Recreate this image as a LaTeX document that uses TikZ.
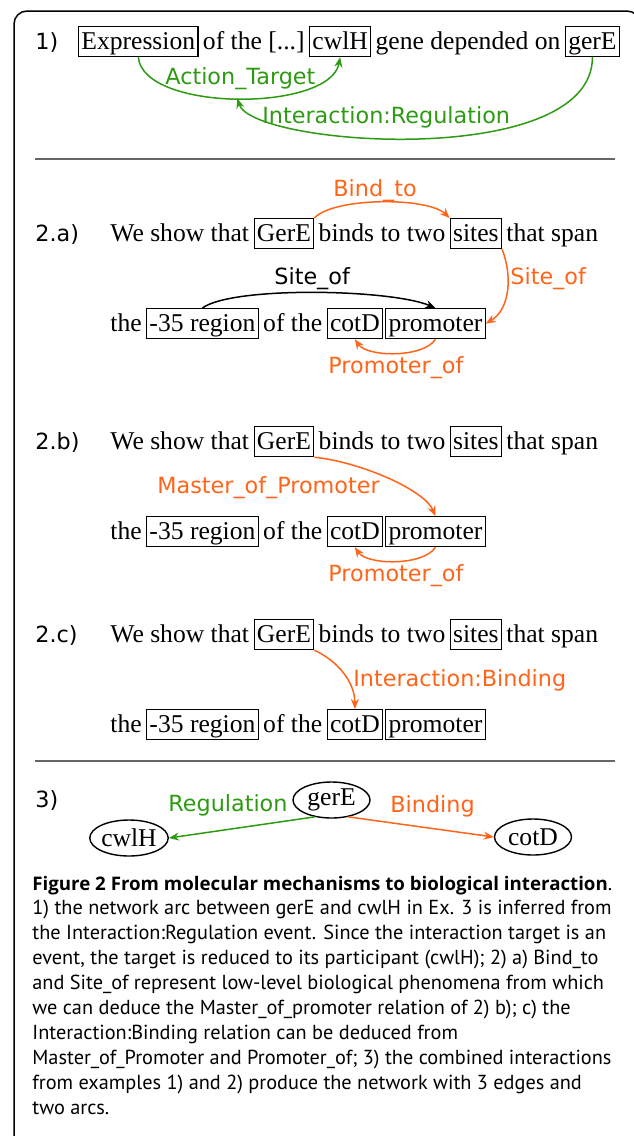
\documentclass[tikz,border=0pt]{standalone}
\usepackage{fontspec}
\setmainfont{Liberation Serif}
\newfontfamily\labelfont{DejaVu Sans}
\newfontfamily\capfont{PT Sans}
\newfontfamily\capbold{Open Sans}
\usetikzlibrary{positioning,arrows.meta,shapes.geometric}
\definecolor{relgreen}{HTML}{2D9B12}
\definecolor{relorange}{HTML}{FF6419}
\definecolor{rulegray}{HTML}{666666}

\begin{document}
\begin{tikzpicture}[x=0.5pt,y=-0.5pt,
  wd/.style={inner sep=0pt,font=\fontsize{12.8pt}{15pt}\selectfont},
  ent/.style={draw,line width=0.6pt,inner xsep=1.4pt,inner ysep=1.2pt,text height=10pt,text depth=2.6pt,font=\fontsize{12.8pt}{15pt}\selectfont},
  num/.style={inner sep=0pt,anchor=base west,font=\labelfont\fontsize{11.15pt}{13pt}\selectfont},
  rel/.style={inner sep=0pt,anchor=base west,font=\labelfont\fontsize{11.15pt}{13pt}\selectfont},
  arc/.style={-{Stealth[length=5pt,width=4pt]},line width=0.75pt},
  gene/.style={draw,ellipse,line width=0.7pt,minimum width=38.5pt,minimum height=18pt,inner sep=0pt,font=\fontsize{12.8pt}{15pt}\selectfont},
  sep/.style={rulegray,line width=0.75pt},
  capline/.style={inner sep=0pt,anchor=base west,font=\capfont\fontsize{10.15pt}{12.45pt}\selectfont},
  node distance=2pt]
  \useasboundingbox (0,0) rectangle (633,1136);
  \draw[line width=0.75pt,rounded corners=6.5pt] (14,11) rectangle (640,1150);

  % 1) sentence
  \node[num] (n1) at (35,49) {1)};
  \node[ent,anchor=base west] (expr) at (78,49) {Expression};
  \node[wd,base right=of expr] (w1a) {of the [...]};
  \node[ent,base right=of w1a] (cwlh) {cwlH};
  \node[wd,base right=of cwlh] (w1b) {gene depended on};
  \node[ent,base right=of w1b] (gere1) {gerE};
  \draw[arc,relgreen] (expr.south) .. controls +(5,55) and +(-10,55) .. coordinate[pos=0.5] (atm) (cwlh.south);
  \draw[arc,relgreen] (gere1.south) .. controls +(0,113) and +(15,48) .. (atm);
  \node[rel,relgreen] (lat) at (165,84) {Action\_Target};
  \node[rel,relgreen] (lir) at (262,123) {Interaction:Regulation};
  \draw[sep] (35,159) -- (615,159);

  % 2) the same sentence three times
  \foreach \s/\ya in {a/241,b/449,c/642}{
    \node[num] (n2\s) at (35,\ya) {2.\s)};
    \node[wd,anchor=base west] (w\s1) at (110,\ya) {We show that};
    \node[ent,base right=of w\s1] (gere\s) {GerE};
    \node[wd,base right=of gere\s] (w\s2) {binds to two};
    \node[ent,base right=of w\s2] (sites\s) {sites};
    \node[wd,base right=of sites\s] (w\s3) {that span};
    \node[wd,anchor=base west] (w\s4) at (110,\ya+90) {the};
    \node[ent,base right=of w\s4] (reg\s) {-35 region};
    \node[wd,base right=of reg\s] (w\s5) {of the};
    \node[ent,base right=of w\s5] (cotd\s) {cotD};
    \node[ent,base right=1pt of cotd\s] (prom\s) {promoter};
  }
  % 2.a
  \draw[arc,relorange] (gerea.north east) .. controls +(20,-21) and +(-22,-21) .. (sitesa.north west);
  \draw[arc,relorange] (sitesa.south east) .. controls +(10,25) and +(25,-15) .. (proma.east);
  \draw[arc] (rega.north) .. controls +(30,-22) and +(-45,-19) .. (proma.north);
  \draw[arc,relorange] (proma.south) .. controls +(-12,19) and +(12,18) .. (cotda.south);
  \node[rel,relorange] (lbt) at (333,196) {Bind\_to};
  \node[rel] (lso1) at (274,284) {Site\_of};
  \node[rel,relorange] (lso2) at (510,284) {Site\_of};
  \node[rel,relorange] (lpo1) at (328,373) {Promoter\_of};
  % 2.b
  \draw[arc,relorange] (gereb.south east) .. controls +(47,5) and +(-11,-26) .. (promb.north);
  \draw[arc,relorange] (promb.south) .. controls +(-12,19) and +(12,18) .. (cotdb.south);
  \node[rel,relorange] (lmp) at (157,493) {Master\_of\_Promoter};
  \node[rel,relorange] (lpo2) at (328,581) {Promoter\_of};
  % 2.c
  \draw[arc,relorange] (gerec.south east) .. controls +(22,10) and +(0,-28) .. (cotdc.north);
  \node[rel,relorange] (lib) at (353,686) {Interaction:Binding};
  \draw[sep] (35,761) -- (615,761);

  % 3) network
  \node[num] (n3) at (35,807) {3)};
  \node[gene] (g3) at (331.5,800) {gerE};
  \node[gene] (c3) at (129,838) {cwlH};
  \node[gene] (d3) at (533,837) {cotD};
  \draw[arc,relgreen] (g3.225) -- (c3.east);
  \draw[arc,relorange] (g3.-45) -- (d3.west);
  \node[rel,relgreen] (lreg) at (168,811) {Regulation};
  \node[rel,relorange] (lbi) at (390,812) {Binding};

  % caption
  \foreach \ln [count=\i] in {
    {{\capbold\bfseries\fontsize{9.35pt}{12.45pt}\selectfont Figure 2 From molecular mechanisms to biological interaction}.},
    {1) the network arc between gerE and cwlH in Ex. 3 is inferred from},
    {the Interaction:Regulation event. Since the interaction target is an},
    {event, the target is reduced to its participant (cwlH); 2) a) Bind\_to},
    {and Site\_of represent low-level biological phenomena from which},
    {we can deduce the Master\_of\_promoter relation of 2) b); c) the},
    {Interaction:Binding relation can be deduced from},
    {Master\_of\_Promoter and Promoter\_of; 3) the combined interactions},
    {from examples 1) and 2) produce the network with 3 edges and},
    {two arcs.}}
    \node[capline] (cap\i) at (32,{890+24.9*(\i-1)}) {\ln};
\end{tikzpicture}
\end{document}
